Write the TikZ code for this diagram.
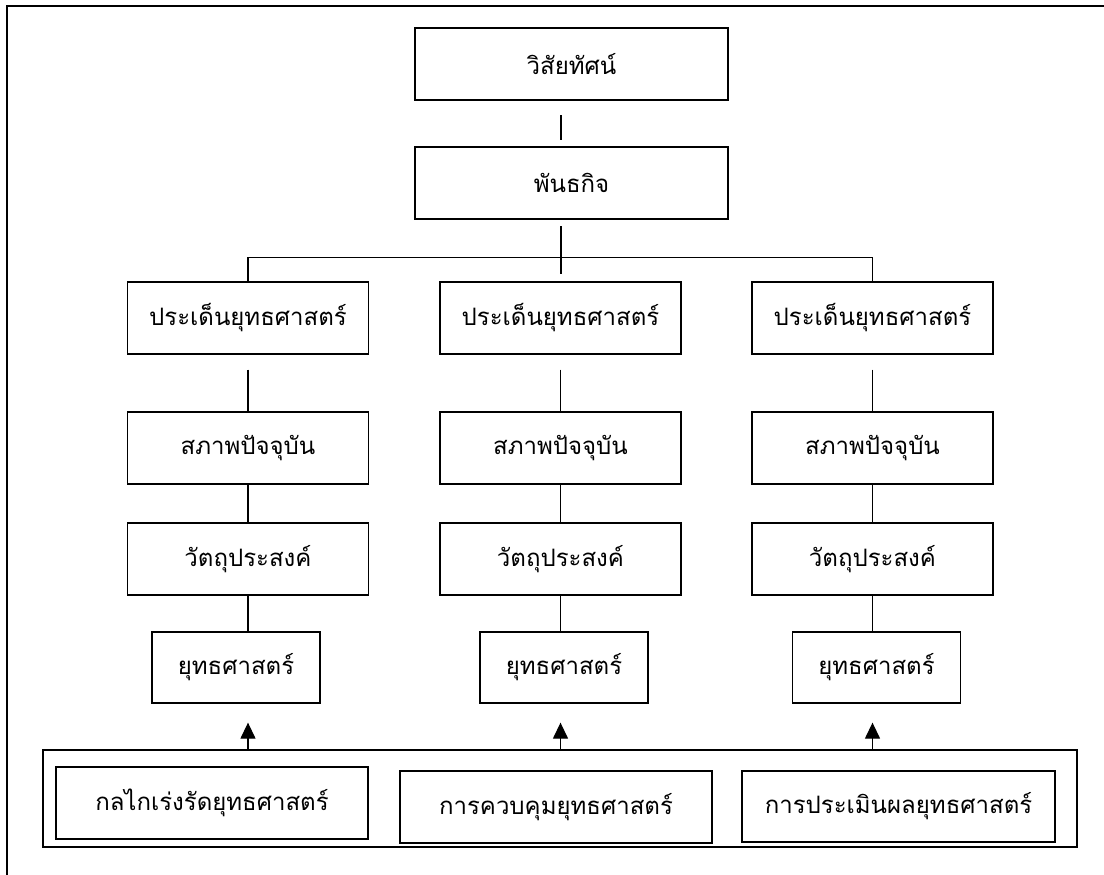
\documentclass[tikz,border=0pt]{standalone}
\usepackage{fontspec}
\newfontfamily\thaifont[Script=Thai]{Loma}
\usetikzlibrary{arrows.meta,calc}
\begin{document}
\begin{tikzpicture}[x=1pt,y=-1pt,
  box/.style={draw,line width=1.3pt,inner sep=0pt,font=\thaifont\fontsize{24}{28}\selectfont},
  link/.style={line width=1.3pt},
  up/.style={line width=1.3pt,-{Triangle[width=15pt,length=16pt]}}]
\useasboundingbox (0,0) rectangle (1104,875);
% page frame (top and left edges)
\draw[line width=2pt] (7,875) -- (7,6) -- (1104,6);

% top of the chart
\node[box,minimum width=313pt,minimum height=72pt] (vis) at (571.5,64) {วิสัยทัศน์};
\node[box,minimum width=313pt,minimum height=72pt] (mis) at (571.5,183) {พันธกิจ};

% three strategic columns
\foreach \n/\cx/\sx in {1/248/236,2/560.5/564,3/872.5/876.5}{
  \node[box,minimum width=241pt,minimum height=72pt] (iss\n) at (\cx,318) {ประเด็นยุทธศาสตร์};
  \node[box,minimum width=241pt,minimum height=72pt] (now\n) at (\cx,448) {สภาพปัจจุบัน};
  \node[box,minimum width=241pt,minimum height=72pt] (obj\n) at (\cx,559) {วัตถุประสงค์};
  \node[box,minimum width=168pt,minimum height=71pt] (str\n) at (\sx,667.5) {ยุทธศาสตร์};
}

% mechanism frame and its three parts
\node[draw,line width=1.3pt,minimum width=1034pt,minimum height=97pt,inner sep=0pt] (ctrl) at (560,798.5) {};
\node[box,line width=2pt,minimum width=312pt,minimum height=72pt] (mech) at (212,803) {กลไกเร่งรัดยุทธศาสตร์};
\node[box,minimum width=312pt,minimum height=72pt] (cont) at (556,807) {การควบคุมยุทธศาสตร์};
\node[box,minimum width=313pt,minimum height=71pt] (eval) at (898.5,806.5) {การประเมินผลยุทธศาสตร์};

% vision -- mission
\coordinate (vm1) at (561,115);
\coordinate (vm2) at (561,140);
\draw[link] (vm1) -- (vm2);

% mission -- issue branches
\coordinate (mb1) at (561,226);
\coordinate (mb2) at (561,274);
\draw[link] (mb1) -- (mb2);
\draw[link] (iss1.north) -- ++(0,-24) -| (iss3.north);

% column links
\foreach \n in {1,2,3}{
  \draw[link] ($(iss\n.south)+(0,15)$) -- (now\n.north);
  \draw[link] (now\n.south) -- (obj\n.north);
  \draw[link] (obj\n.south) -- (obj\n.south |- str\n.north);
  \draw[up] (ctrl.north -| iss\n.south) -- ($(iss\n.south |- str\n.south)+(0,19)$);
}
\end{tikzpicture}
\end{document}
